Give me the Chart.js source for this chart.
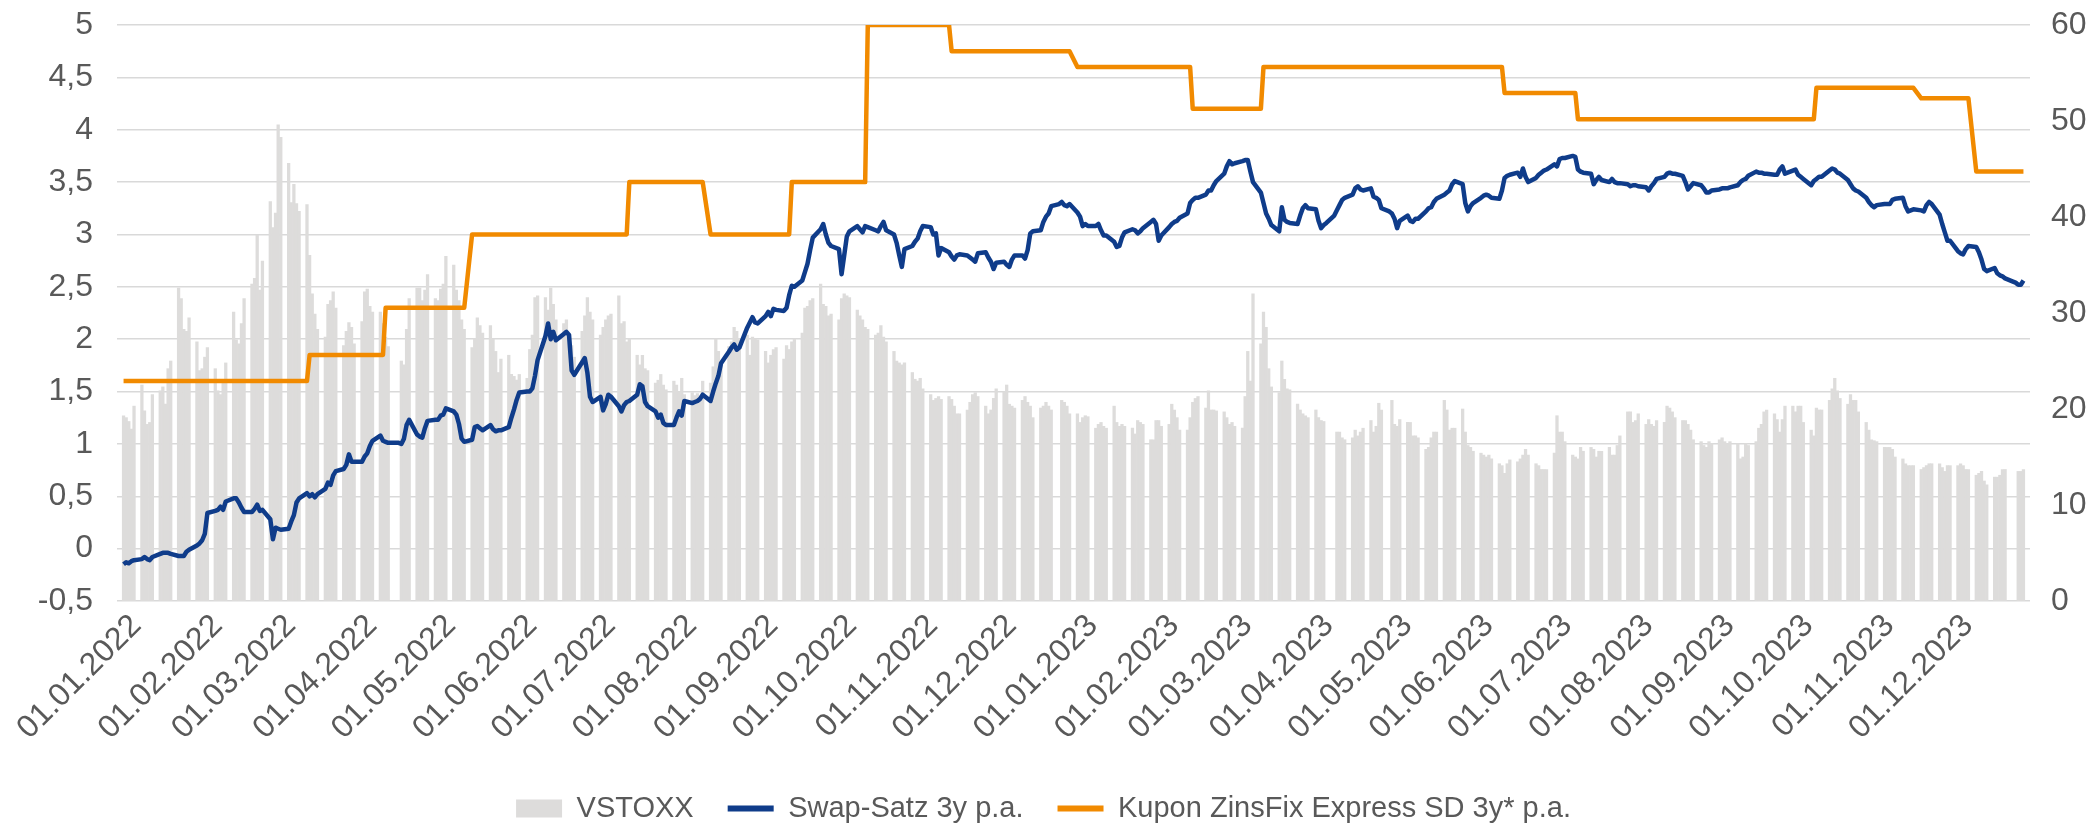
<!DOCTYPE html>
<html><head><meta charset="utf-8">
<script src="https://cdn.jsdelivr.net/npm/chart.js@4.4.0/dist/chart.umd.min.js"></script>
<style>html,body{margin:0;padding:0;background:#fff;}#wrap{width:2087px;height:826px;}canvas{display:block;}</style>
</head><body><div id="wrap"><canvas id="c" width="2087" height="826"></canvas></div>
<script>
// ---- tick labels shown on the x axis
const monthTicks = ['01.01.2022','01.02.2022','01.03.2022','01.04.2022','01.05.2022','01.06.2022','01.07.2022','01.08.2022','01.09.2022','01.10.2022','01.11.2022','01.12.2022',
 '01.01.2023','01.02.2023','01.03.2023','01.04.2023','01.05.2023','01.06.2023','01.07.2023','01.08.2023','01.09.2023','01.10.2023','01.11.2023','01.12.2023'];
const firstDay = '2022-01-01', lastDay = '2023-12-31';

// ---- VSTOXX, one value per weekday (Mon-Fri), null = exchange holiday
const vstoxx2022 = [
 19.3,19.1,18.7,17.9,20.3, 22.5,19.8,18.4,18.6,21.5, 21.9,22.3,20.5,24.2,25.0, 32.6,31.5,28.3,28.1,29.5, 27.0,
 24.0,24.2,25.4,26.4, 24.2,21.9,21.5,23.0,24.8, 30.1,27.2,26.8,28.9,31.5, 33.0,33.6,38.1,32.4,35.4, 41.6,
 38.9,40.4,49.6,48.3, 45.6,41.5,43.4,41.4,40.6, 41.3,36.0,32.0,29.9,28.3, 27.5,30.9,31.3,32.2,30.5, 26.6,28.1,29.0,28.5,
 26.8, 29.1,32.2,32.5,30.7,30.1, 30.1,28.9,27.5,26.5,null, null,25.0,24.6,28.3,31.5, 32.6,32.6,31.3,32.4,34.0,
 31.5,31.3,32.5,33.0,35.9, 35.0,32.4,31.3,29.3,28.3, 26.4,27.3,29.5,28.7,27.9, 28.7,27.3,26.0,23.8,25.2, 25.6,23.6,
 23.4,23.0,23.6, 23.2,26.2,27.7,31.6,31.8, 31.6,30.3,32.6,30.9,29.3, 28.9,29.3,27.7,26.6,25.4, 28.1,29.7,31.6,30.1,
 29.3, 27.7,28.5,29.3,29.7,29.9, 31.8,28.9,29.1,27.0,27.3, 25.6,24.6,25.6,24.2,24.0, 22.7,23.0,23.6,22.5,22.0,
 22.9,22.5,21.8,23.2,21.5, 21.7,21.4,21.6,21.3,22.9, 22.7,24.4,27.3,26.0,24.8, 26.5,27.0,28.5,28.1,27.3, 27.7,25.6,27.5,
 27.3,27.2, 26.0,24.8,25.6,26.2,26.4, 25.2,26.6,26.2,27.0,27.3, 27.9,30.5,30.7,31.3,31.5, 33.0,30.9,30.7,29.7,29.9,
 29.3,31.5,32.0,31.8,31.6, 30.3,29.7,29.3,28.5,28.3, 27.7,27.9,28.7,27.5,27.0, 26.0,25.0,24.8,24.6,24.8, 23.8,
 23.1,22.9,23.2,22.1, 21.5,20.9,21.1,21.3,21.0, 21.3,21.0,20.3,19.5,19.5, 19.9,20.7,21.5,21.7,21.3, 20.3,19.5,19.9,
 21.1,22.1, 21.8,22.5,20.5,20.3,20.1, 20.9,21.3,20.7,20.3,19.1, 20.1,20.3,20.7,20.3,19.9, null,20.9,20.7,20.3,19.5
];
const vstoxx2023 = [
 19.5,18.6,19.1,19.3,19.2, 18.0,18.4,18.6,18.2,18.0, 20.3,18.6,18.2,18.4,18.2, 18.0,17.4,18.8,18.6,18.4, 16.8,16.8,
 18.8,18.8,18.2, 18.4,20.5,19.9,19.1,17.8, 17.8,19.1,20.7,21.1,21.3, 20.1,21.9,19.9,19.9,19.8, 19.7,19.1,
 18.4,18.6,18.2, 18.0,21.3,26.0,22.9,32.0, 26.8,30.1,28.5,24.2,22.3, 21.7,25.0,23.1,22.1,22.0, 20.5,19.9,19.5,19.3,19.1,
 19.9,19.1,18.8,18.7,null, null,17.6,17.6,17.0,16.8, 17.0,17.8,17.2,17.6,18.0, 18.8,17.6,18.2,20.6,19.9,
 null,20.9,18.4,18.2,18.9, 18.6,18.6,17.2,17.2,17.0, 15.8,16.0,17.0,17.6,17.6, 20.9,19.9,17.8,18.0,18.0, 20.0,17.6,16.2,
 16.0,15.6, 15.4,15.2,15.0,15.2,14.8, 14.3,14.1,13.3,14.3,14.7, 14.5,14.8,15.2,15.8,15.2, 14.3,14.1,13.7,13.7,13.7,
 15.4,19.3,17.6,17.6,16.6, 15.2,15.0,14.8,16.0,15.6, 16.0,15.8,15.0,15.6,15.6, 16.0,15.2,15.2,16.2,17.2, 19.7,
 19.7,18.6,18.8,19.5, 18.4,18.9,18.4,18.2,18.8, 18.6,20.3,20.1,19.7,19.1, 18.8,18.8,18.4,17.8,16.8, 16.6,16.2,16.0,16.6,
 16.4, 16.8,17.0,16.6,16.4,16.6, 16.4,14.8,15.0,16.4,16.2, 16.6,18.0,18.4,19.7,19.9, 19.5,18.9,17.6,18.9,20.3,
 20.3,19.7,20.3,20.3,18.6, 17.8,17.2,20.1,19.9,19.9, 20.9,22.1,23.2,21.9,21.1, 20.5,21.5,20.9,20.9,19.7, 18.6,17.8,
 16.8,16.7,16.6, 16.0,16.0,16.0,15.8,15.0, 14.8,14.3,14.1,14.1,14.1, 13.7,13.9,14.1,14.3,14.3, 14.3,13.9,13.5,14.1,
 14.1, 14.1,14.3,14.1,13.7,13.7, 13.1,13.3,13.5,12.5,12.1, 12.9,12.9,13.1,13.7,13.7, null,null,13.5,13.5,13.7
];

// ---- Swap-Satz 3y p.a., one value per weekday
const swap2022 = [
 -0.15,-0.13,-0.14,-0.12,-0.11, -0.10,-0.08,-0.10,-0.11,-0.08, -0.05,-0.04,-0.04,-0.04,-0.05, -0.07,-0.07,-0.07,-0.03,-0.01, 0.03,
 0.05,0.08,0.14,0.34, 0.36,0.37,0.40,0.37,0.45, 0.48,0.48,0.44,0.39,0.35, 0.35,0.38,0.42,0.36,0.37, 0.28,
 0.09,0.20,0.19,0.18, 0.19,0.26,0.32,0.44,0.48, 0.53,0.50,0.52,0.49,0.52, 0.57,0.63,0.61,0.70,0.74, 0.76,0.80,0.90,0.83,
 0.83, 0.83,0.88,0.91,0.98,1.03, 1.08,1.03,1.02,1.01,1.01, 1.01,1.00,1.05,1.18,1.23, 1.09,1.07,1.06,1.15,1.22,
 1.23,1.23,1.27,1.28,1.34, 1.31,1.28,1.19,1.05,1.02, 1.04,1.16,1.17,1.15,1.13, 1.18,1.14,1.12,1.13,1.13, 1.16,1.25,
 1.33,1.42,1.49, 1.50,1.50,1.53,1.65,1.80, 2.03,2.15,2.00,2.07,1.99, 2.05,2.07,2.04,1.70,1.66, 1.78,1.82,1.68,1.45,
 1.40, 1.45,1.32,1.38,1.47,1.45, 1.36,1.31,1.37,1.40,1.41, 1.47,1.57,1.55,1.40,1.36, 1.31,1.25,1.28,1.20,1.18,
 1.18,1.25,1.31,1.27,1.41, 1.39,1.40,1.41,1.43,1.47, 1.41,1.50,1.58,1.65,1.77, 1.88,1.92,1.95,1.90,1.92, 2.11,2.16,2.21,
 2.16,2.15, 2.22,2.26,2.22,2.29,2.28, 2.27,2.30,2.42,2.51,2.50, 2.56,2.64,2.72,2.85,2.97, 3.05,3.10,3.00,2.92,2.89,
 2.86,2.62,2.80,2.98,3.03, 3.08,3.05,3.02,3.08,3.07, 3.04,3.03,3.08,3.12,3.04, 3.00,2.92,2.80,2.69,2.86, 2.89,
 2.93,2.96,3.03,3.08, 3.07,3.00,3.01,2.80,2.87, 2.83,2.79,2.76,2.80,2.81, 2.80,2.78,2.76,2.74,2.82, 2.83,2.78,2.74,
 2.67,2.73, 2.74,2.71,2.69,2.76,2.80, 2.80,2.77,2.85,3.01,3.03, 3.04,3.12,3.17,3.20,3.27, 3.29,3.31,3.28,3.27,3.29
];
const swap2023 = [
 3.21,3.17,3.08,3.10,3.08, 3.08,3.10,3.04,2.99,2.99, 2.93,2.88,2.89,2.97,3.02, 3.05,3.04,3.01,3.03,3.06, 3.12,3.14,
 3.10,2.94,2.99, 3.07,3.10,3.12,3.13,3.16, 3.20,3.30,3.33,3.35,3.35, 3.38,3.42,3.42,3.47,3.51, 3.58,3.65,
 3.70,3.67,3.68, 3.70,3.71,3.71,3.60,3.50, 3.40,3.30,3.20,3.15,3.09, 3.03,3.26,3.14,3.12,3.11, 3.10,3.18,3.25,3.28,3.25,
 3.24,3.13,3.06,3.09,3.11, 3.18,3.23,3.28,3.33,3.35, 3.38,3.44,3.46,3.43,3.42, 3.44,3.36,3.35,3.33,3.25,
 3.22,3.20,3.15,3.06,3.13, 3.18,3.13,3.12,3.15,3.15, 3.22,3.25,3.26,3.31,3.34, 3.38,3.40,3.42,3.48,3.51, 3.48,3.30,3.22,
 3.27,3.30, 3.35,3.37,3.38,3.37,3.35, 3.34,3.42,3.54,3.56,3.57, 3.59,3.55,3.63,3.55,3.50, 3.54,3.57,3.59,3.61,3.62,
 3.67,3.65,3.72,3.73,3.73, 3.75,3.74,3.62,3.60,3.59, 3.58,3.48,3.52,3.55,3.52, 3.50,3.53,3.50,3.49,3.49, 3.48,
 3.46,3.47,3.47,3.46, 3.45,3.42,3.46,3.49,3.53, 3.55,3.58,3.59,3.58,3.58, 3.56,3.50,3.43,3.46,3.49, 3.47,3.44,3.40,3.40,
 3.42, 3.43,3.44,3.44,3.44,3.45, 3.47,3.50,3.52,3.53,3.56, 3.60,3.59,3.59,3.58,3.58, 3.57,3.57,3.62,3.65,3.58,
 3.61,3.62,3.57,3.55,3.53, 3.47,3.51,3.53,3.55,3.55, 3.61,3.63,3.62,3.59,3.58, 3.52,3.48,3.44,3.42,3.41, 3.35,3.31,
 3.28,3.26,3.28, 3.29,3.29,3.29,3.33,3.34, 3.35,3.27,3.22,3.23,3.24, 3.23,3.22,3.28,3.31,3.29, 3.19,3.10,3.02,2.94,
 2.94, 2.84,2.82,2.81,2.86,2.89, 2.88,2.83,2.76,2.67,2.65, 2.68,2.63,2.61,2.60,2.58, 2.55,2.54,2.52,2.52,2.56
];

// ---- Kupon ZinsFix Express SD 3y* p.a.: rate valid from each date
const couponFrom = ['2022-01-03','2022-03-15','2022-04-13','2022-05-16','2022-07-15','2022-08-15','2022-09-15','2022-10-14',
 '2022-11-15','2023-01-02','2023-02-15','2023-03-14','2023-06-14','2023-07-12','2023-10-11','2023-11-20','2023-12-11'];
const couponRate = [1.6,1.85,2.3,3.0,3.5,3.0,3.5,5.0,4.75,4.6,4.2,4.6,4.35,4.1,4.4,4.3,3.6];
const couponUntil = '2023-12-29';

// ---- build calendar-day table for the category axis
const vAll = vstoxx2022.concat(vstoxx2023);
const sAll = swap2022.concat(swap2023);
const labels = [], vst = [], swp = [], cpn = [];
let k = 0;
const t0 = Date.parse(firstDay + 'T00:00:00Z'), t1 = Date.parse(lastDay + 'T00:00:00Z');
for (let t = t0; t <= t1; t += 86400000) {
  const d = new Date(t);
  const iso = d.toISOString().slice(0, 10);
  labels.push(iso.slice(8, 10) + '.' + iso.slice(5, 7) + '.' + iso.slice(0, 4));
  const wd = d.getUTCDay();
  if (wd === 0 || wd === 6) { vst.push(null); swp.push(null); cpn.push(null); continue; }
  vst.push(k < vAll.length ? vAll[k] : null);
  swp.push(k < sAll.length ? sAll[k] : null);
  let c = null;
  if (iso <= couponUntil) for (let j = 0; j < couponFrom.length; j++) if (iso >= couponFrom[j]) c = couponRate[j];
  cpn.push(c);
  k++;
}

const FONT = "'Liberation Sans', Arial, sans-serif";
const TXT = '#595959';
const fmt = v => String(v).replace('.', ',');
const PLOT_BOTTOM = 601, LEGEND_SHIFT = 7;

const legendShift = {
  id: 'legendShift',
  afterLayout(chart) { if (chart.legend) { chart.legend.top += LEGEND_SHIFT; chart.legend.bottom += LEGEND_SHIFT; } }
};

new Chart(document.getElementById('c'), {
  plugins: [legendShift],
  data: {
    labels: labels,
    datasets: [
      { type: 'bar', label: 'VSTOXX', data: vst, yAxisID: 'y1', backgroundColor: '#DDDCDB', borderWidth: 0,
        barPercentage: 1, categoryPercentage: 1, order: 3, pointStyle: 'rect' },
      { type: 'line', label: 'Swap-Satz 3y p.a.', data: swp, yAxisID: 'y', borderColor: '#0F3C8A', backgroundColor: '#0F3C8A',
        borderWidth: 4.5, pointRadius: 0, spanGaps: true, tension: 0, order: 1, pointStyle: 'line', borderJoinStyle: 'round' },
      { type: 'line', label: 'Kupon ZinsFix Express SD 3y* p.a.', data: cpn, yAxisID: 'y', borderColor: '#F18A00', backgroundColor: '#F18A00',
        borderWidth: 4.5, pointRadius: 0, spanGaps: true, tension: 0, order: 2, pointStyle: 'line', borderJoinStyle: 'round' }
    ]
  },
  options: {
    responsive: false, animation: false, devicePixelRatio: 1,
    layout: { padding: { top: 25, left: 0, right: 0, bottom: 0 } },
    plugins: {
      tooltip: { enabled: false },
      legend: {
        position: 'bottom',
        labels: { usePointStyle: true, pointStyleWidth: 46, boxHeight: 18, padding: 34, color: TXT,
          font: { family: FONT, size: 29 }, sort: (a, b) => a.datasetIndex - b.datasetIndex,
          generateLabels: chart => {
            const items = Chart.defaults.plugins.legend.labels.generateLabels(chart);
            items.forEach(it => { it.lineWidth = it.pointStyle === 'line' ? 6 : 0; });
            return items;
          } }
      }
    },
    scales: {
      x: {
        type: 'category', offset: true,
        grid: { display: false }, border: { display: false },
        ticks: { autoSkip: false, minRotation: 45, maxRotation: 45, padding: -2, labelOffset: 18, color: TXT, font: { family: FONT, size: 32 },
          callback: function (v) { const l = this.getLabelForValue(v); return monthTicks.includes(l) ? l : ''; } },
        afterFit: s => { s.height = 826 - PLOT_BOTTOM - s.chart.legend.height; s.paddingLeft = 0; s.paddingRight = 0; }
      },
      y: {
        position: 'left', min: -0.5, max: 5,
        ticks: { stepSize: 0.5, padding: 24, color: TXT, font: { family: FONT, size: 32 }, callback: v => fmt(v) },
        grid: { color: '#D9D9D9', lineWidth: 1.5, drawTicks: false }, border: { display: false },
        afterFit: s => { s.width = 117; s.paddingTop = 0; s.paddingBottom = 0; }
      },
      y1: {
        position: 'right', min: 0, max: 60,
        ticks: { stepSize: 10, padding: 13, color: TXT, font: { family: FONT, size: 32 } },
        grid: { display: false, drawOnChartArea: false }, border: { display: false },
        afterFit: s => { s.width = 57; s.paddingTop = 0; s.paddingBottom = 0; }
      }
    }
  }
});
</script>
</body></html>
